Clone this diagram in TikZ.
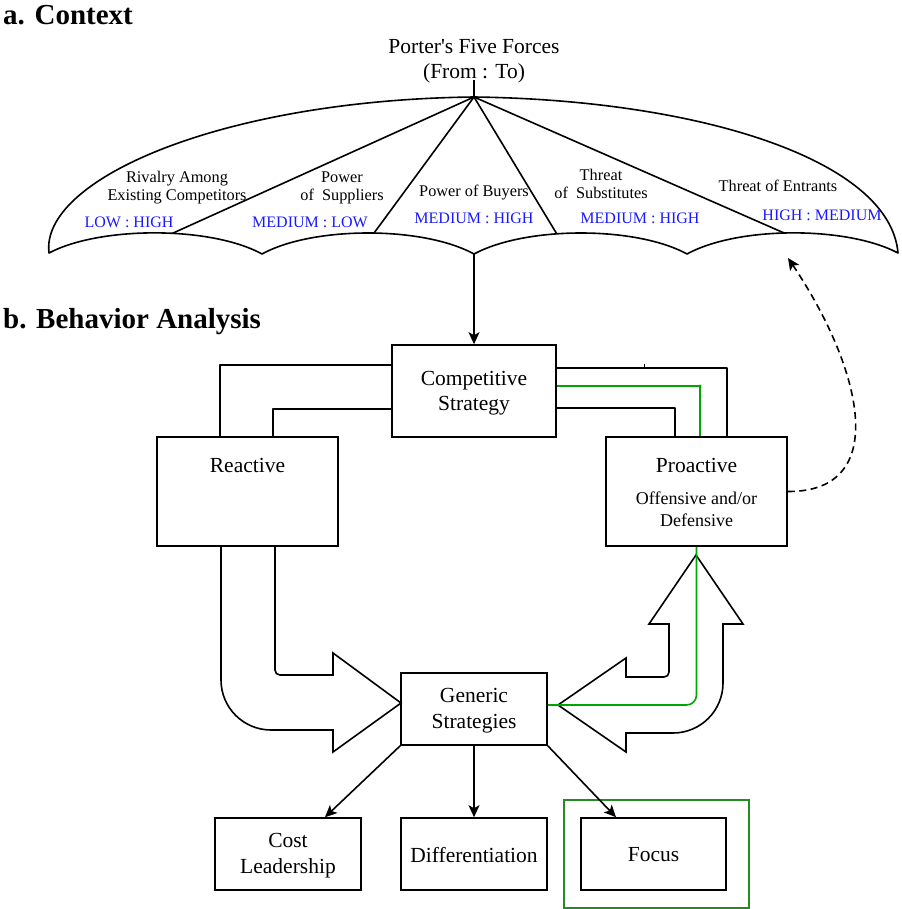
\documentclass[tikz,border=0pt]{standalone}
\usepackage{fontspec}
\setmainfont{Liberation Serif}[Ligatures=TeXOff]
\usetikzlibrary{arrows.meta,calc}

\definecolor{forceblue}{RGB}{25,25,255}
\definecolor{pathgreen}{RGB}{0,165,0}
\definecolor{framegreen}{RGB}{35,140,35}

\tikzset{
  ln/.style={line width=1.6pt, line join=round},
  arr/.style={-{Stealth[length=12pt,width=11pt,inset=3pt]}},
  box/.style={draw, line width=1.6pt, inner sep=0pt},
  title/.style={font=\fontsize{29}{34}\selectfont\bfseries, inner sep=0pt},
  bigtxt/.style={font=\fontsize{21.5}{25.5}\selectfont, align=center, inner sep=0pt},
  midtxt/.style={font=\fontsize{18}{22}\selectfont, align=center, inner sep=0pt},
  forcetxt/.style={font=\fontsize{16.3}{18}\selectfont, align=center, inner sep=0pt},
  ratetxt/.style={font=\fontsize{16}{18}\selectfont, text=forceblue, inner sep=0pt},
  greenln/.style={draw=pathgreen, line width=1.6pt},
  blockarrow/.style={line width=1.6pt, line join=miter},
}

\begin{document}
\begin{tikzpicture}[x=1pt,y=-1pt]
\useasboundingbox (0,0) rectangle (901,909);

% section headings
\node[title, anchor=west] (ta) at (3,15) {a. Context};
\node[title, anchor=west] (tb) at (3,322) {b. Behavior Analysis};

% ---------- umbrella of the five forces ----------
\coordinate (apex) at (474,97);
\coordinate (handle) at (474,80);
\coordinate (tipL) at (49,253);
\coordinate (tipR) at (898,253);
\coordinate (cA) at (262,254);
\coordinate (cB) at (474,254);
\coordinate (cC) at (687,254);

\draw[ln] (tipL) .. controls (100,226) and (211,226) .. (cA) coordinate[pos=0.57] (r1)
          .. controls (313,226) and (423,226) .. (cB) coordinate[pos=0.525] (r2)
          .. controls (526,226) and (636,226) .. (cC) coordinate[pos=0.4] (r3)
          .. controls (738,226) and (847,226) .. (tipR) coordinate[pos=0.465] (r4)
          .. controls (890,160) and (700,100) .. (apex)
          .. controls (220,100) and (40,180) .. cycle;

\draw[ln] (handle) -- (apex);
\foreach \r in {r1,r2,r3,r4} \draw[ln] (apex) -- (\r);

\node[bigtxt] (porter) at (474,61) {Porter's Five Forces\\(From : To)};

\node[forcetxt] (f1) at (177,188) {Rivalry Among\\Existing Competitors};
\node[forcetxt] (f2) at (342,188) {Power\\of~ Suppliers};
\node[forcetxt] (f3) at (474,193) {Power of Buyers};
\node[forcetxt] (f4) at (601,184) {Threat\\of~ Substitutes};
\node[forcetxt] (f5) at (778,186) {Threat of Entrants};

\node[ratetxt] (v1) at (129,222) {LOW : HIGH};
\node[ratetxt] (v2) at (310,222) {MEDIUM : LOW};
\node[ratetxt] (v3) at (474,218) {MEDIUM : HIGH};
\node[ratetxt] (v4) at (640,218) {MEDIUM : HIGH};
\node[ratetxt] (v5) at (822,215) {HIGH : MEDIUM};

% ---------- behaviour analysis ----------
\node[box, minimum width=164pt, minimum height=92pt] (comp) at (474,391) {};
\node[bigtxt] (compt) at (474,393) {Competitive\\Strategy};

\node[box, minimum width=181pt, minimum height=109pt] (rea) at (247.5,491.5) {};
\node[bigtxt] (reat) at (247.5,465) {Reactive};

\node[box, minimum width=181pt, minimum height=109pt] (pro) at (696.5,491.5) {};
\node[bigtxt] (prot) at (696.5,465) {Proactive};
\node[midtxt] (prosub) at (696.5,509) {Offensive and/or\\Defensive};

\node[box, minimum width=146pt, minimum height=72pt] (gen) at (474,709) {};
\node[bigtxt] (gent) at (474,710.5) {Generic\\Strategies};

\node[box, minimum width=146pt, minimum height=72pt] (cost) at (288,854) {};
\node[bigtxt] (costt) at (288,855.5) {Cost\\Leadership};

\node[box, minimum width=146pt, minimum height=72pt] (diff) at (474,854) {};
\node[bigtxt] (difft) at (474,855) {Differentiation};

\node[box, minimum width=145pt, minimum height=72pt] (foc) at (653.5,854) {};
\node[bigtxt] (foct) at (653.5,855) {Focus};

\node[draw=framegreen, line width=1.4pt, minimum width=185pt, minimum height=108pt, inner sep=0pt] (focframe) at (656.5,854) {};

% umbrella shaft into the strategy box
\draw[ln, arr] (cB) -- (comp.north);

% strategy box to reactive / proactive
\draw[ln] ([yshift=26pt]comp.west) -| ([xshift=-27.5pt]rea.north);
\draw[ln] ([yshift=-18pt]comp.west) -| ([xshift=25.5pt]rea.north);
\draw[ln] ([yshift=23pt]comp.east) -| ([xshift=30.5pt]pro.north);
\draw[ln] ([yshift=-17pt]comp.east) -| ([xshift=-21.5pt]pro.north);
\draw[greenln] ([yshift=5pt]comp.east) -| ([xshift=3.5pt]pro.north);
\fill[pathgreen] (700,386) circle (1.6pt);
\draw[line width=1pt] (644,363.5) -- (644,368);

% feedback from proactive behaviour to the forces
\coordinate (ret) at (788,258);
\draw[ln, dash pattern=on 7pt off 4.5pt, arr] (pro.east) .. controls (892,492) and (862,368) .. (ret);

% block arrow: reactive -> generic strategies
\draw[blockarrow] (221,546) -- (221,680)
   .. controls (221,707.6) and (243.4,730) .. (271,730)
   -- (333,730) -- (333,752) -- (401,703) -- (333,653) -- (333,675)
   -- (280,675) .. controls (277,675) and (275,673) .. (275,670) -- (275,546);

% block arrow: generic strategies -> proactive
\draw[blockarrow] (558,705) -- (626,658) -- (626,677) -- (664,677)
   .. controls (667,677) and (669,675) .. (669,672)
   -- (669,624) -- (649,624) -- (696,555) -- (743,624) -- (723,624) -- (723,683)
   .. controls (723,710.6) and (700.6,733) .. (673,733)
   -- (626,733) -- (626,752) -- cycle;

% green path generic strategies -> proactive
\draw[greenln, rounded corners=10pt] ([yshift=4pt]gen.east) -| (pro.south);

% generic strategies to the three options
\draw[ln, arr] (gen.south west) -- ([xshift=37pt]cost.north);
\draw[ln, arr] (gen.south) -- (diff.north);
\draw[ln, arr] (gen.south east) -- ([xshift=-37.5pt]foc.north);

\end{tikzpicture}
\end{document}
